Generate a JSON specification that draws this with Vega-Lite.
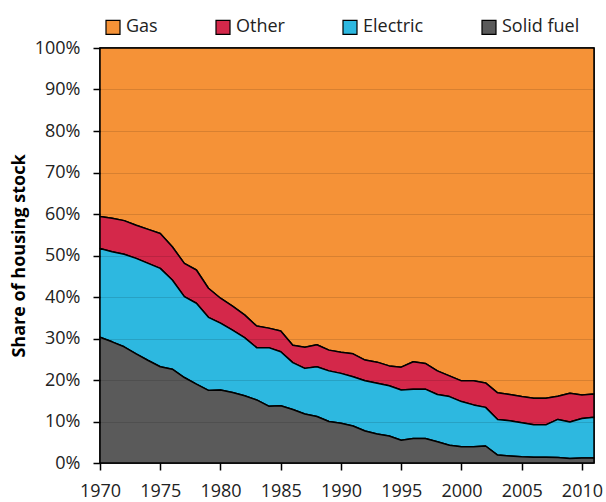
{
  "$schema": "https://vega.github.io/schema/vega-lite/v6.json",
  "width": 494,
  "height": 415,
  "autosize": {"type": "none"},
  "padding": {"left": 100, "top": 48, "right": 12, "bottom": 39},
  "background": "white",
  "config": {
    "font": "Open Sans",
    "view": {"stroke": "black", "strokeWidth": 1.5},
    "axis": {"labelFont": "Open Sans", "titleFont": "Open Sans"},
    "legend": {"labelFont": "Open Sans"}
  },
  "data": {
    "values": [
      {"year": 1970, "Solid fuel": 30.3, "Electric": 21.4, "Other": 7.7, "Gas": 40.6},
      {"year": 1971, "Solid fuel": 29.2, "Electric": 21.7, "Other": 8.1, "Gas": 41.0},
      {"year": 1972, "Solid fuel": 28.0, "Electric": 22.3, "Other": 8.1, "Gas": 41.6},
      {"year": 1973, "Solid fuel": 26.3, "Electric": 23.0, "Other": 8.0, "Gas": 42.7},
      {"year": 1974, "Solid fuel": 24.7, "Electric": 23.4, "Other": 8.2, "Gas": 43.7},
      {"year": 1975, "Solid fuel": 23.2, "Electric": 23.7, "Other": 8.4, "Gas": 44.7},
      {"year": 1976, "Solid fuel": 22.6, "Electric": 21.5, "Other": 8.0, "Gas": 47.9},
      {"year": 1977, "Solid fuel": 20.6, "Electric": 19.5, "Other": 8.0, "Gas": 51.9},
      {"year": 1978, "Solid fuel": 19.0, "Electric": 19.5, "Other": 8.0, "Gas": 53.5},
      {"year": 1979, "Solid fuel": 17.5, "Electric": 17.6, "Other": 7.0, "Gas": 57.9},
      {"year": 1980, "Solid fuel": 17.6, "Electric": 16.1, "Other": 6.0, "Gas": 60.3},
      {"year": 1981, "Solid fuel": 17.0, "Electric": 15.0, "Other": 5.8, "Gas": 62.2},
      {"year": 1982, "Solid fuel": 16.2, "Electric": 14.0, "Other": 5.5, "Gas": 64.3},
      {"year": 1983, "Solid fuel": 15.2, "Electric": 12.6, "Other": 5.2, "Gas": 67.0},
      {"year": 1984, "Solid fuel": 13.7, "Electric": 14.1, "Other": 4.7, "Gas": 67.5},
      {"year": 1985, "Solid fuel": 13.8, "Electric": 13.0, "Other": 5.0, "Gas": 68.2},
      {"year": 1986, "Solid fuel": 12.9, "Electric": 11.3, "Other": 4.2, "Gas": 71.6},
      {"year": 1987, "Solid fuel": 11.8, "Electric": 11.0, "Other": 5.1, "Gas": 72.1},
      {"year": 1988, "Solid fuel": 11.2, "Electric": 12.0, "Other": 5.3, "Gas": 71.5},
      {"year": 1989, "Solid fuel": 10.0, "Electric": 12.2, "Other": 5.0, "Gas": 72.8},
      {"year": 1990, "Solid fuel": 9.6, "Electric": 12.0, "Other": 5.1, "Gas": 73.3},
      {"year": 1991, "Solid fuel": 8.9, "Electric": 11.9, "Other": 5.5, "Gas": 73.7},
      {"year": 1992, "Solid fuel": 7.7, "Electric": 12.1, "Other": 5.0, "Gas": 75.2},
      {"year": 1993, "Solid fuel": 7.0, "Electric": 12.2, "Other": 5.1, "Gas": 75.7},
      {"year": 1994, "Solid fuel": 6.5, "Electric": 12.1, "Other": 4.8, "Gas": 76.6},
      {"year": 1995, "Solid fuel": 5.5, "Electric": 12.1, "Other": 5.5, "Gas": 76.9},
      {"year": 1996, "Solid fuel": 5.9, "Electric": 11.9, "Other": 6.6, "Gas": 75.6},
      {"year": 1997, "Solid fuel": 5.9, "Electric": 11.9, "Other": 6.2, "Gas": 76.0},
      {"year": 1998, "Solid fuel": 5.1, "Electric": 11.4, "Other": 5.7, "Gas": 77.8},
      {"year": 1999, "Solid fuel": 4.3, "Electric": 11.7, "Other": 5.0, "Gas": 79.0},
      {"year": 2000, "Solid fuel": 3.9, "Electric": 10.9, "Other": 5.0, "Gas": 80.2},
      {"year": 2001, "Solid fuel": 3.9, "Electric": 10.1, "Other": 5.8, "Gas": 80.2},
      {"year": 2002, "Solid fuel": 4.1, "Electric": 9.3, "Other": 5.9, "Gas": 80.7},
      {"year": 2003, "Solid fuel": 1.9, "Electric": 8.6, "Other": 6.4, "Gas": 83.1},
      {"year": 2004, "Solid fuel": 1.7, "Electric": 8.5, "Other": 6.3, "Gas": 83.5},
      {"year": 2005, "Solid fuel": 1.5, "Electric": 8.2, "Other": 6.3, "Gas": 84.0},
      {"year": 2006, "Solid fuel": 1.4, "Electric": 7.8, "Other": 6.4, "Gas": 84.4},
      {"year": 2007, "Solid fuel": 1.4, "Electric": 7.8, "Other": 6.4, "Gas": 84.4},
      {"year": 2008, "Solid fuel": 1.3, "Electric": 9.2, "Other": 5.6, "Gas": 83.9},
      {"year": 2009, "Solid fuel": 1.1, "Electric": 8.8, "Other": 6.9, "Gas": 83.2},
      {"year": 2010, "Solid fuel": 1.2, "Electric": 9.5, "Other": 5.7, "Gas": 83.6},
      {"year": 2011, "Solid fuel": 1.2, "Electric": 9.8, "Other": 5.6, "Gas": 83.4}
    ]
  },
  "transform": [
    {"fold": ["Gas", "Other", "Electric", "Solid fuel"], "as": ["fuel", "share"]},
    {"calculate": "indexof(['Solid fuel', 'Electric', 'Other', 'Gas'], datum.fuel)", "as": "stackRank"}
  ],
  "mark": {"type": "area", "stroke": "black", "strokeWidth": 1.5, "strokeJoin": "round"},
  "encoding": {
    "x": {
      "field": "year",
      "type": "quantitative",
      "scale": {"domain": [1970, 2011], "nice": false, "zero": false},
      "axis": {
        "title": null,
        "values": [1970, 1975, 1980, 1985, 1990, 1995, 2000, 2005, 2010],
        "format": "d",
        "grid": false,
        "domain": false,
        "tickColor": "black",
        "tickSize": 7,
        "tickWidth": 1.5,
        "labelFontSize": 18,
        "labelColor": "#222222",
        "labelPadding": 12,
        "labelOverlap": false,
        "labelFlush": false
      }
    },
    "y": {
      "field": "share",
      "type": "quantitative",
      "stack": "zero",
      "scale": {"domain": [0, 100], "nice": false},
      "axis": {
        "title": "Share of housing stock",
        "titleFontSize": 18,
        "titleFontWeight": "bold",
        "titleColor": "black",
        "titlePadding": 6,
        "values": [0, 10, 20, 30, 40, 50, 60, 70, 80, 90, 100],
        "labelExpr": "datum.value + '%'",
        "labelFontSize": 18,
        "labelColor": "#222222",
        "labelPadding": 13,
        "tickColor": "black",
        "tickSize": 7,
        "tickWidth": 1.5,
        "domain": false,
        "grid": true,
        "gridColor": "black",
        "gridOpacity": 0.12,
        "gridWidth": 1,
        "zindex": 1
      }
    },
    "order": {"field": "stackRank", "type": "quantitative", "sort": "ascending"},
    "color": {
      "field": "fuel",
      "type": "nominal",
      "sort": ["Gas", "Other", "Electric", "Solid fuel"],
      "scale": {
        "domain": ["Gas", "Other", "Electric", "Solid fuel"],
        "range": ["#F59237", "#D4284A", "#2DB8E0", "#5A5A5A"]
      },
      "legend": {
        "title": null,
        "orient": "none",
        "direction": "horizontal",
        "legendX": 4,
        "legendY": -30,
        "padding": 0,
        "symbolType": "square",
        "symbolSize": 196,
        "symbolStrokeColor": "black",
        "symbolStrokeWidth": 1.2,
        "symbolOpacity": 1,
        "labelFontSize": 18,
        "labelColor": "#222222",
        "labelOffset": 4,
        "columnPadding": 55
      }
    }
  }
}
